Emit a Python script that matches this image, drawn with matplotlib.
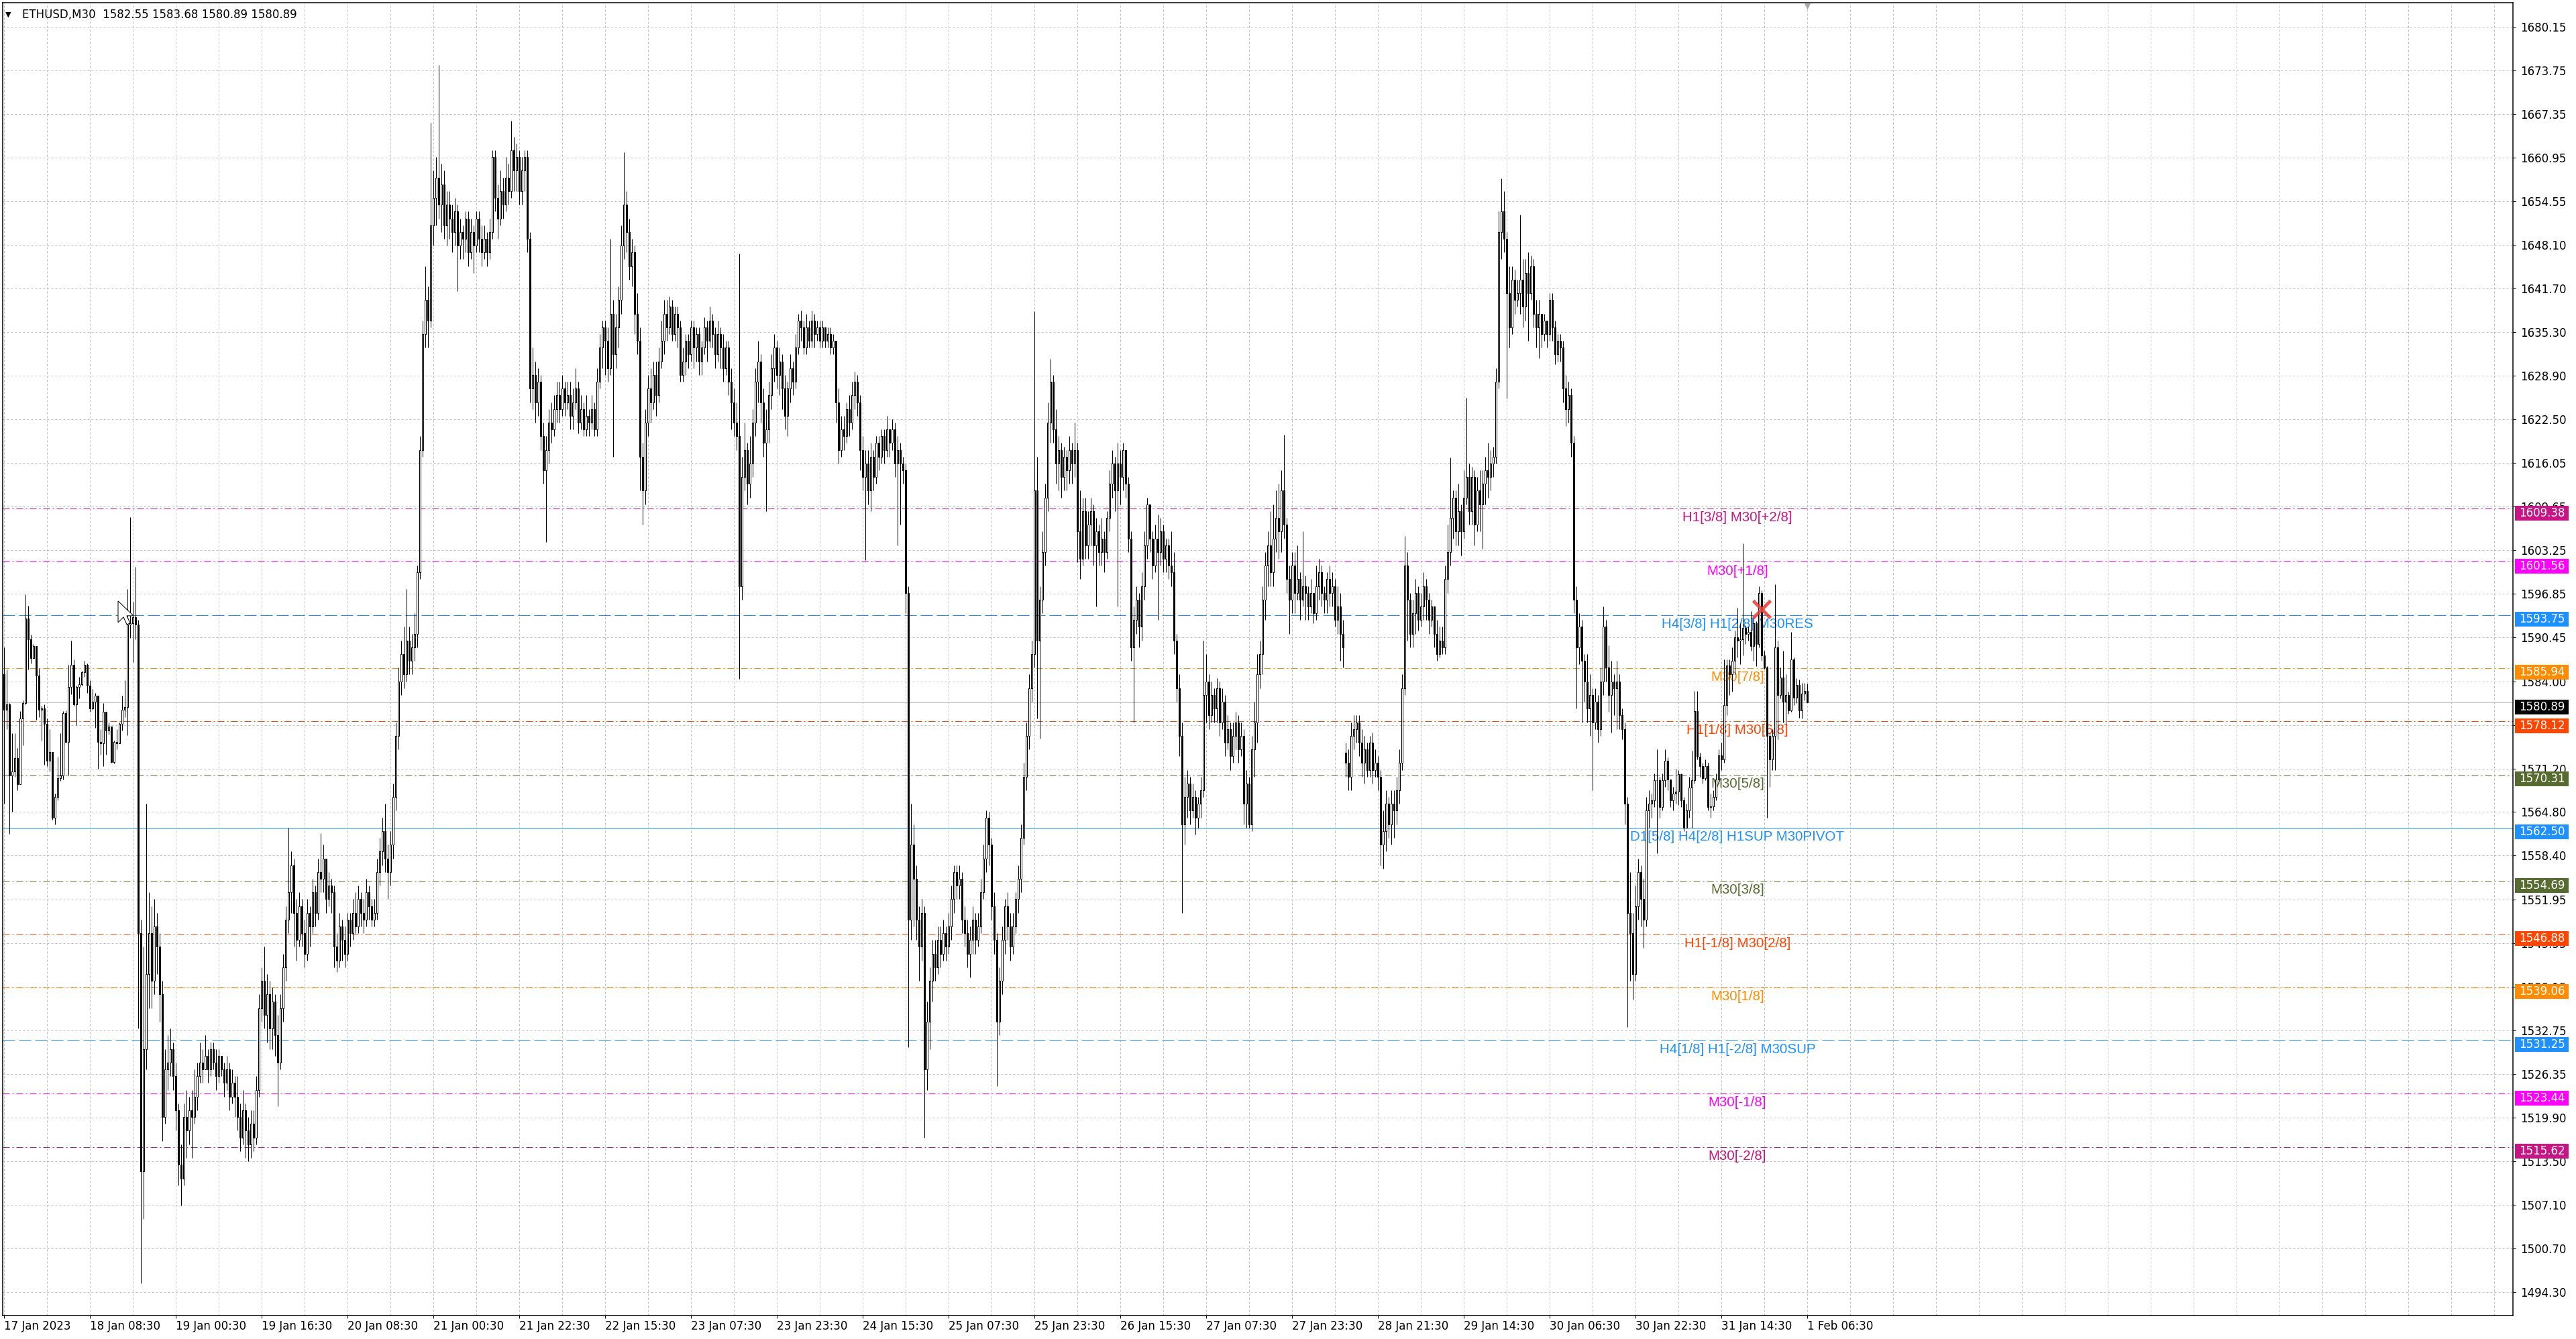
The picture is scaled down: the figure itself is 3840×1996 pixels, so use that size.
import matplotlib
matplotlib.use("Agg")
import matplotlib.pyplot as plt
import matplotlib.transforms as mtransforms
from matplotlib.patches import Polygon, Rectangle

WIDTH_PX, HEIGHT_PX, DPI = 3840, 1996, 100
PX = 72.0 / DPI  # one screen pixel in points

# ETHUSD M30 candles (open = previous close)
first_open = 1585.0
gap_opens = {500: 1573.5}

closes = [
    1579.8, 1580.6, 1570.2, 1570.8, 1572.7, 1568.9, 1578.5, 1580.8, 1593.2, 1590.2,  # 0
    1587.4, 1589.2, 1584.9, 1579.8, 1580.0, 1577.8, 1572.3, 1573.6, 1564.0, 1567.0,  # 10
    1569.8, 1570.2, 1579.3, 1575.1, 1583.2, 1586.4, 1580.6, 1583.2, 1583.6, 1585.3,  # 20
    1586.4, 1583.4, 1580.0, 1581.0, 1581.9, 1575.1, 1574.9, 1579.5, 1576.8, 1577.4,  # 30
    1572.1, 1575.1, 1574.9, 1577.8, 1579.8, 1580.2, 1592.3, 1592.5, 1593.4, 1592.3,  # 40
    1547.0, 1512.0, 1530.0, 1541.0, 1547.0, 1540.0, 1548.0, 1545.0, 1538.0, 1520.0,  # 50
    1527.0, 1528.0, 1530.0, 1526.0, 1521.0, 1513.0, 1511.0, 1520.0, 1518.0, 1521.0,  # 60
    1520.0, 1523.0, 1526.0, 1528.0, 1527.0, 1529.0, 1527.0, 1530.0, 1528.0, 1526.0,  # 70
    1529.0, 1527.0, 1525.0, 1527.0, 1523.0, 1525.0, 1523.0, 1520.0, 1517.0, 1521.0,  # 80
    1518.0, 1516.0, 1519.0, 1517.0, 1524.0, 1536.0, 1540.0, 1535.0, 1538.0, 1533.0,  # 90
    1537.0, 1532.0, 1528.0, 1536.0, 1542.0, 1549.0, 1553.0, 1557.0, 1550.0, 1546.0,  # 100
    1551.0, 1547.0, 1544.0, 1550.0, 1548.0, 1553.0, 1550.0, 1556.0, 1555.0, 1558.0,  # 110
    1552.0, 1554.0, 1553.0, 1545.0, 1543.0, 1548.0, 1546.0, 1544.0, 1549.0, 1547.0,  # 120
    1550.0, 1548.0, 1552.0, 1550.0, 1549.0, 1553.0, 1551.0, 1549.0, 1550.0, 1556.0,  # 130
    1559.0, 1562.0, 1558.0, 1556.0, 1560.0, 1567.0, 1576.0, 1584.0, 1588.0, 1585.0,  # 140
    1590.0, 1587.0, 1589.0, 1591.0, 1600.0, 1618.0, 1635.0, 1640.0, 1637.0, 1651.0,  # 150
    1655.0, 1658.0, 1654.0, 1657.0, 1651.0, 1654.0, 1652.0, 1650.0, 1653.0, 1648.0,  # 160
    1650.0, 1649.0, 1652.0, 1647.0, 1650.0, 1648.0, 1652.0, 1649.0, 1647.0, 1649.0,  # 170
    1647.0, 1650.0, 1661.0, 1655.0, 1652.0, 1656.0, 1654.0, 1658.0, 1656.0, 1662.0,  # 180
    1659.0, 1661.0, 1656.0, 1659.0, 1661.0, 1649.0, 1627.0, 1629.0, 1625.0, 1628.0,  # 190
    1620.0, 1615.0, 1618.0, 1622.0, 1621.0, 1624.0, 1626.0, 1624.0, 1627.0, 1625.0,  # 200
    1626.0, 1623.0, 1625.0, 1627.0, 1622.0, 1624.0, 1621.0, 1623.0, 1622.0, 1624.0,  # 210
    1621.0, 1628.0, 1633.0, 1636.0, 1634.0, 1630.0, 1638.0, 1632.0, 1636.0, 1640.0,  # 220
    1648.0, 1654.0, 1650.0, 1645.0, 1647.0, 1638.0, 1634.0, 1617.0, 1612.0, 1622.0,  # 230
    1627.0, 1625.0, 1629.0, 1626.0, 1631.0, 1634.0, 1638.0, 1636.0, 1639.0, 1635.0,  # 240
    1638.0, 1636.0, 1629.0, 1631.0, 1634.0, 1632.0, 1636.0, 1633.0, 1635.0, 1631.0,  # 250
    1633.0, 1636.0, 1634.0, 1637.0, 1635.0, 1632.0, 1635.0, 1633.0, 1630.0, 1633.0,  # 260
    1628.0, 1625.0, 1622.0, 1620.0, 1598.0, 1614.0, 1618.0, 1613.0, 1616.0, 1622.0,  # 270
    1628.0, 1631.0, 1625.0, 1619.0, 1621.0, 1626.0, 1630.0, 1633.0, 1629.0, 1631.0,  # 280
    1627.0, 1623.0, 1627.0, 1630.0, 1628.0, 1633.0, 1637.0, 1636.0, 1633.0, 1636.0,  # 290
    1634.0, 1637.0, 1635.0, 1636.0, 1634.0, 1636.0, 1634.0, 1635.0, 1633.0, 1634.0,  # 300
    1625.0, 1618.0, 1621.0, 1620.0, 1624.0, 1622.0, 1626.0, 1628.0, 1625.0, 1618.0,  # 310
    1614.0, 1616.0, 1612.0, 1617.0, 1614.0, 1619.0, 1617.0, 1620.0, 1618.0, 1621.0,  # 320
    1619.0, 1621.0, 1616.0, 1618.0, 1616.0, 1615.0, 1597.0, 1549.0, 1560.0, 1555.0,  # 330
    1549.0, 1545.0, 1550.0, 1527.0, 1534.0, 1540.0, 1544.0, 1542.0, 1546.0, 1544.0,  # 340
    1547.0, 1545.0, 1548.0, 1552.0, 1556.0, 1554.0, 1555.0, 1549.0, 1547.0, 1544.0,  # 350
    1546.0, 1549.0, 1546.0, 1548.0, 1553.0, 1558.0, 1564.0, 1560.0, 1551.0, 1546.0,  # 360
    1534.0, 1540.0, 1546.0, 1551.0, 1548.0, 1545.0, 1548.0, 1552.0, 1555.0, 1561.0,  # 370
    1570.0, 1576.0, 1583.0, 1588.0, 1612.0, 1590.0, 1596.0, 1603.0, 1611.0, 1622.0,  # 380
    1628.0, 1621.0, 1616.0, 1618.0, 1614.0, 1617.0, 1615.0, 1618.0, 1616.0, 1618.0,  # 390
    1606.0, 1602.0, 1609.0, 1604.0, 1607.0, 1609.0, 1604.0, 1606.0, 1603.0, 1605.0,  # 400
    1603.0, 1608.0, 1613.0, 1616.0, 1612.0, 1616.0, 1614.0, 1618.0, 1613.0, 1605.0,  # 410
    1589.0, 1593.0, 1596.0, 1592.0, 1598.0, 1604.0, 1610.0, 1605.0, 1601.0, 1605.0,  # 420
    1603.0, 1606.0, 1602.0, 1604.0, 1601.0, 1600.0, 1590.0, 1583.0, 1576.0, 1563.0,  # 430
    1567.0, 1569.0, 1565.0, 1567.0, 1564.0, 1566.0, 1568.0, 1582.0, 1584.0, 1579.0,  # 440
    1582.0, 1580.0, 1583.0, 1578.0, 1581.0, 1575.0, 1577.0, 1573.0, 1576.0, 1578.0,  # 450
    1574.0, 1576.0, 1566.0, 1569.0, 1563.0, 1574.0, 1578.0, 1585.0, 1588.0, 1596.0,  # 460
    1601.0, 1604.0, 1600.0, 1605.0, 1608.0, 1606.0, 1612.0, 1607.0, 1599.0, 1596.0,  # 470
    1601.0, 1597.0, 1599.0, 1596.0, 1598.0, 1597.0, 1595.0, 1597.0, 1594.0, 1598.0,  # 480
    1600.0, 1597.0, 1596.0, 1599.0, 1597.0, 1598.0, 1593.0, 1595.0, 1591.0, 1589.0,  # 490
    1572.0, 1570.0, 1576.0, 1577.0, 1578.0, 1575.0, 1572.0, 1574.0, 1571.0, 1575.0,  # 500
    1571.0, 1572.0, 1570.0, 1560.0, 1562.0, 1566.0, 1563.0, 1566.0, 1565.0, 1568.0,  # 510
    1572.0, 1583.0, 1601.0, 1596.0, 1591.0, 1594.0, 1597.0, 1593.0, 1595.0, 1598.0,  # 520
    1596.0, 1593.0, 1595.0, 1591.0, 1588.0, 1590.0, 1589.0, 1599.0, 1603.0, 1608.0,  # 530
    1611.0, 1606.0, 1609.0, 1606.0, 1611.0, 1614.0, 1609.0, 1614.0, 1607.0, 1612.0,  # 540
    1610.0, 1613.0, 1615.0, 1614.0, 1616.0, 1617.0, 1628.0, 1650.0, 1653.0, 1649.0,  # 550
    1641.0, 1636.0, 1643.0, 1640.0, 1641.0, 1643.0, 1639.0, 1644.0, 1641.0, 1645.0,  # 560
    1638.0, 1636.0, 1638.0, 1635.0, 1637.0, 1635.0, 1640.0, 1636.0, 1632.0, 1634.0,  # 570
    1633.0, 1627.0, 1624.0, 1626.0, 1619.0, 1596.0, 1589.0, 1592.0, 1587.0, 1584.0,  # 580
    1580.0, 1582.0, 1578.0, 1581.0, 1577.0, 1584.0, 1592.0, 1586.0, 1582.0, 1584.0,  # 590
    1583.0, 1584.0, 1579.0, 1577.0, 1566.0, 1550.0, 1547.0, 1541.0, 1551.0, 1556.0,  # 600
    1552.0, 1549.0, 1565.0, 1566.0, 1566.5, 1569.5, 1569.5, 1565.5, 1569.5, 1572.3,  # 610
    1569.6, 1566.5, 1567.5, 1567.8, 1570.4, 1566.5, 1562.5, 1565.0, 1568.4, 1569.5,  # 620
    1579.6, 1572.9, 1571.5, 1569.8, 1571.5, 1565.5, 1565.6, 1567.0, 1569.6, 1573.1,  # 630
    1572.5, 1580.5, 1586.3, 1585.0, 1587.0, 1590.5, 1590.0, 1590.2, 1591.8, 1591.0,  # 640
    1591.3, 1589.2, 1592.5, 1589.5, 1597.0, 1587.8, 1586.0, 1576.0, 1572.5, 1576.0,  # 650
    1589.0, 1582.0, 1584.6, 1581.0, 1582.0, 1579.7, 1587.2, 1581.6, 1583.5, 1579.7,  # 660
    1582.2, 1582.55, 1580.89,                                                        # 670
]

highs = [
    1589.0, 1585.7, 1580.8, 1576.4, 1576.4, 1574.2, 1579.6, 1581.2, 1596.8, 1595.1,  # 0
    1590.9, 1589.5, 1589.2, 1585.9, 1580.4, 1580.6, 1578.5, 1577.0, 1573.5, 1567.5,  # 10
    1572.9, 1576.4, 1579.6, 1579.7, 1586.4, 1590.0, 1587.2, 1583.4, 1584.7, 1585.5,  # 20
    1587.0, 1586.6, 1584.2, 1582.9, 1582.3, 1581.9, 1577.0, 1580.8, 1579.5, 1578.0,  # 30
    1577.1, 1575.3, 1577.0, 1578.0, 1581.9, 1584.2, 1597.6, 1608.1, 1595.7, 1600.8,  # 40
    1593.0, 1549.0, 1545.0, 1566.0, 1553.0, 1551.0, 1552.0, 1550.0, 1547.0, 1540.0,  # 50
    1530.0, 1532.0, 1533.0, 1531.0, 1528.0, 1522.0, 1516.0, 1522.0, 1524.0, 1523.0,  # 60
    1524.0, 1527.0, 1528.0, 1531.0, 1530.0, 1532.0, 1530.0, 1531.0, 1531.0, 1530.0,  # 70
    1530.0, 1529.0, 1528.0, 1529.0, 1528.0, 1527.0, 1526.0, 1526.0, 1522.0, 1524.0,  # 80
    1522.0, 1520.0, 1521.0, 1521.0, 1526.0, 1538.0, 1542.0, 1545.0, 1541.0, 1540.0,  # 90
    1539.0, 1538.0, 1535.0, 1538.0, 1544.0, 1551.0, 1562.5, 1559.0, 1558.0, 1552.0,  # 100
    1553.0, 1552.0, 1549.0, 1552.0, 1551.0, 1555.0, 1554.0, 1558.0, 1561.7, 1560.0,  # 110
    1558.0, 1556.0, 1555.0, 1554.0, 1547.0, 1550.0, 1549.0, 1548.0, 1550.0, 1550.0,  # 120
    1552.0, 1553.0, 1554.0, 1553.0, 1552.0, 1555.0, 1554.0, 1552.0, 1552.0, 1558.0,  # 130
    1561.0, 1564.0, 1566.0, 1560.0, 1562.0, 1569.0, 1578.0, 1586.0, 1590.0, 1592.0,  # 140
    1597.6, 1592.0, 1591.0, 1594.0, 1601.0, 1620.0, 1637.0, 1645.0, 1642.0, 1666.0,  # 150
    1659.0, 1661.0, 1674.5, 1660.0, 1659.0, 1656.0, 1656.0, 1654.0, 1655.0, 1654.0,  # 160
    1652.0, 1651.0, 1653.0, 1653.0, 1652.0, 1651.0, 1653.0, 1653.0, 1651.0, 1651.0,  # 170
    1650.0, 1652.0, 1662.0, 1662.0, 1657.0, 1659.0, 1658.0, 1661.0, 1660.0, 1666.3,  # 180
    1664.0, 1663.0, 1662.0, 1661.0, 1662.0, 1662.0, 1650.0, 1633.0, 1631.0, 1630.0,  # 190
    1629.0, 1622.0, 1620.0, 1624.0, 1625.0, 1626.0, 1628.0, 1628.0, 1629.0, 1628.0,  # 200
    1628.0, 1628.0, 1627.0, 1630.0, 1628.0, 1626.0, 1625.0, 1626.0, 1624.0, 1626.0,  # 210
    1625.0, 1630.0, 1635.0, 1637.0, 1637.0, 1636.0, 1649.0, 1640.0, 1638.0, 1642.0,  # 220
    1651.0, 1661.7, 1656.0, 1652.0, 1649.0, 1648.0, 1641.0, 1636.0, 1619.0, 1624.0,  # 230
    1629.0, 1630.0, 1631.0, 1631.0, 1633.0, 1637.0, 1640.0, 1640.0, 1640.5, 1640.0,  # 240
    1639.0, 1639.0, 1637.0, 1633.0, 1635.0, 1635.0, 1637.0, 1637.0, 1636.0, 1636.0,  # 250
    1634.0, 1637.5, 1637.0, 1639.0, 1638.0, 1636.0, 1637.0, 1636.0, 1635.0, 1634.0,  # 260
    1634.0, 1630.0, 1627.0, 1625.0, 1646.8, 1617.0, 1622.0, 1619.0, 1620.0, 1624.0,  # 270
    1630.0, 1634.0, 1632.0, 1627.0, 1624.0, 1628.0, 1632.0, 1635.0, 1634.0, 1633.0,  # 280
    1632.0, 1629.0, 1628.0, 1632.0, 1631.0, 1635.0, 1638.0, 1638.5, 1637.0, 1638.0,  # 290
    1637.0, 1638.5, 1638.0, 1637.0, 1637.0, 1637.0, 1636.0, 1636.0, 1636.0, 1635.0,  # 300
    1634.0, 1627.0, 1623.0, 1623.0, 1625.0, 1626.0, 1628.0, 1629.5, 1629.0, 1626.0,  # 310
    1620.0, 1618.0, 1618.0, 1619.0, 1618.0, 1620.0, 1620.0, 1621.0, 1621.0, 1623.0,  # 320
    1621.0, 1622.5, 1622.0, 1620.0, 1619.0, 1617.0, 1616.0, 1598.0, 1566.0, 1563.0,  # 330
    1557.0, 1551.0, 1552.0, 1551.0, 1537.0, 1542.0, 1546.0, 1546.0, 1548.0, 1548.0,  # 340
    1549.0, 1548.0, 1550.0, 1554.0, 1557.0, 1557.0, 1557.0, 1556.0, 1551.0, 1549.0,  # 350
    1548.0, 1551.0, 1550.0, 1550.0, 1555.0, 1560.0, 1565.0, 1564.8, 1561.0, 1553.0,  # 360
    1547.0, 1542.0, 1548.0, 1552.0, 1553.0, 1550.0, 1550.0, 1553.0, 1557.0, 1563.0,  # 370
    1572.0, 1578.0, 1585.0, 1590.0, 1638.4, 1617.0, 1598.0, 1606.0, 1613.0, 1625.0,  # 380
    1631.4, 1629.0, 1624.0, 1620.0, 1619.0, 1618.5, 1618.0, 1620.0, 1619.0, 1622.0,  # 390
    1619.0, 1612.0, 1611.0, 1611.0, 1609.0, 1611.0, 1610.0, 1608.0, 1607.0, 1608.0,  # 400
    1606.0, 1609.0, 1615.0, 1618.0, 1617.0, 1619.0, 1618.0, 1619.0, 1618.0, 1614.0,  # 410
    1606.0, 1595.0, 1598.0, 1597.0, 1600.0, 1606.0, 1611.0, 1609.5, 1606.0, 1607.0,  # 420
    1608.5, 1608.0, 1607.0, 1605.0, 1605.0, 1606.0, 1603.0, 1591.0, 1585.0, 1578.0,  # 430
    1570.0, 1571.0, 1570.0, 1569.0, 1568.0, 1567.0, 1570.0, 1590.0, 1588.0, 1585.0,  # 440
    1584.0, 1583.0, 1584.5, 1584.0, 1583.0, 1582.0, 1579.0, 1578.0, 1578.0, 1579.5,  # 450
    1579.0, 1578.0, 1577.0, 1571.0, 1570.0, 1576.0, 1581.0, 1588.0, 1590.0, 1598.0,  # 460
    1603.0, 1606.0, 1609.0, 1610.0, 1612.0, 1613.0, 1615.0, 1620.2, 1608.0, 1601.0,  # 470
    1603.0, 1603.0, 1604.0, 1600.0, 1606.0, 1599.5, 1598.0, 1599.0, 1597.0, 1601.0,  # 480
    1602.0, 1601.0, 1598.0, 1600.0, 1601.0, 1600.0, 1599.0, 1598.0, 1597.0, 1593.0,  # 490
    1575.0, 1574.0, 1578.0, 1579.0, 1579.0, 1579.0, 1577.0, 1576.0, 1575.0, 1576.0,  # 500
    1576.5, 1574.0, 1573.0, 1571.0, 1565.0, 1568.0, 1567.0, 1568.0, 1568.0, 1570.0,  # 510
    1574.0, 1585.0, 1605.3, 1603.0, 1597.0, 1596.0, 1599.0, 1598.0, 1597.0, 1600.0,  # 520
    1599.0, 1597.0, 1596.0, 1595.0, 1593.0, 1592.0, 1592.0, 1601.0, 1607.0, 1616.9,  # 530
    1612.0, 1612.0, 1613.0, 1610.0, 1615.0, 1625.6, 1616.0, 1615.5, 1615.0, 1614.0,  # 540
    1615.0, 1615.0, 1617.0, 1619.0, 1618.0, 1618.5, 1630.0, 1653.0, 1657.9, 1656.0,  # 550
    1650.0, 1645.0, 1645.0, 1644.5, 1643.0, 1652.5, 1646.0, 1646.0, 1647.0, 1646.5,  # 560
    1646.0, 1640.0, 1640.0, 1638.0, 1638.0, 1637.0, 1641.0, 1641.0, 1637.0, 1635.0,  # 570
    1635.0, 1634.0, 1629.0, 1628.0, 1627.0, 1620.0, 1598.0, 1594.0, 1593.0, 1588.0,  # 580
    1588.0, 1585.0, 1583.0, 1583.0, 1582.0, 1586.0, 1595.0, 1593.0, 1589.3, 1587.0,  # 590
    1585.0, 1587.0, 1585.0, 1580.0, 1578.0, 1567.0, 1556.0, 1550.0, 1554.0, 1558.0,  # 600
    1557.0, 1555.0, 1567.0, 1568.0, 1567.5, 1570.5, 1574.0, 1570.0, 1570.5, 1574.0,  # 610
    1572.8, 1569.5, 1568.5, 1571.2, 1571.0, 1570.5, 1567.0, 1566.0, 1570.0, 1573.8,  # 620
    1582.6, 1582.6, 1573.5, 1572.0, 1572.5, 1572.0, 1567.5, 1568.0, 1570.5, 1574.0,  # 630
    1575.0, 1587.2, 1587.2, 1587.2, 1589.0, 1591.5, 1594.8, 1592.5, 1604.3, 1592.2,  # 640
    1592.0, 1594.3, 1593.6, 1592.8, 1598.0, 1597.4, 1588.5, 1586.2, 1576.5, 1577.0,  # 650
    1598.3, 1590.0, 1586.0, 1588.5, 1585.0, 1582.5, 1591.3, 1587.5, 1584.5, 1584.3,  # 660
    1583.8, 1583.8, 1583.68,                                                         # 670
]

lows = [
    1566.0, 1577.0, 1561.6, 1564.8, 1570.0, 1568.0, 1568.9, 1574.6, 1580.6, 1585.7,  # 0
    1586.6, 1587.4, 1578.3, 1578.7, 1575.3, 1571.7, 1571.5, 1570.8, 1563.7, 1563.0,  # 10
    1566.5, 1569.4, 1569.6, 1575.0, 1570.2, 1582.1, 1580.4, 1577.6, 1581.5, 1583.4,  # 20
    1584.7, 1582.3, 1579.5, 1579.8, 1577.2, 1571.2, 1573.2, 1571.5, 1573.2, 1576.2,  # 30
    1572.0, 1571.9, 1574.0, 1574.9, 1576.8, 1578.7, 1576.1, 1590.4, 1586.8, 1590.2,  # 40
    1533.0, 1495.6, 1505.0, 1527.0, 1536.0, 1536.0, 1538.0, 1541.0, 1534.0, 1516.5,  # 50
    1519.0, 1524.0, 1526.0, 1524.0, 1518.0, 1510.0, 1507.0, 1510.0, 1514.0, 1516.0,  # 60
    1514.0, 1519.0, 1521.0, 1525.0, 1525.0, 1527.0, 1525.0, 1526.0, 1527.0, 1524.0,  # 70
    1525.0, 1526.0, 1523.0, 1524.0, 1521.0, 1522.0, 1520.0, 1518.0, 1515.0, 1516.0,  # 80
    1514.0, 1513.5, 1514.0, 1515.0, 1516.0, 1523.0, 1534.0, 1533.0, 1531.0, 1530.0,  # 90
    1530.0, 1529.0, 1521.6, 1527.0, 1534.0, 1540.0, 1547.0, 1550.0, 1545.0, 1543.0,  # 100
    1545.0, 1545.0, 1542.0, 1543.0, 1545.0, 1547.0, 1548.0, 1549.0, 1553.0, 1553.0,  # 110
    1550.0, 1551.0, 1550.0, 1542.0, 1541.3, 1542.0, 1543.0, 1542.0, 1543.0, 1545.0,  # 120
    1546.0, 1547.0, 1547.0, 1548.0, 1547.0, 1548.0, 1549.0, 1548.0, 1548.0, 1549.0,  # 130
    1554.0, 1557.0, 1556.0, 1552.0, 1554.0, 1558.0, 1565.0, 1574.0, 1582.0, 1583.0,  # 140
    1584.0, 1585.0, 1585.0, 1587.0, 1589.0, 1599.0, 1617.0, 1633.0, 1633.0, 1636.0,  # 150
    1648.0, 1651.0, 1652.0, 1650.0, 1649.0, 1648.0, 1649.0, 1647.0, 1648.0, 1641.3,  # 160
    1646.0, 1646.0, 1647.0, 1645.0, 1646.0, 1644.0, 1647.0, 1647.0, 1645.0, 1646.0,  # 170
    1645.0, 1646.0, 1649.0, 1653.0, 1649.0, 1651.0, 1652.0, 1653.0, 1654.0, 1655.0,  # 180
    1656.0, 1656.0, 1654.0, 1654.0, 1656.0, 1647.0, 1625.0, 1624.0, 1622.0, 1623.0,  # 190
    1618.0, 1613.0, 1604.5, 1616.0, 1619.0, 1620.0, 1622.0, 1622.0, 1623.0, 1623.0,  # 200
    1624.0, 1621.0, 1621.0, 1624.0, 1620.4, 1621.0, 1620.0, 1620.0, 1620.0, 1621.0,  # 210
    1620.0, 1620.0, 1627.0, 1630.0, 1629.0, 1628.0, 1629.0, 1617.0, 1630.0, 1633.0,  # 220
    1638.0, 1646.0, 1647.0, 1643.0, 1642.0, 1635.0, 1632.0, 1612.0, 1607.0, 1610.0,  # 230
    1620.0, 1622.0, 1624.0, 1623.0, 1625.0, 1630.0, 1632.0, 1634.0, 1635.0, 1634.0,  # 240
    1634.0, 1633.0, 1628.0, 1628.0, 1629.0, 1630.0, 1631.0, 1630.0, 1631.0, 1629.0,  # 250
    1629.0, 1632.0, 1631.0, 1633.0, 1633.0, 1630.0, 1631.0, 1630.0, 1628.0, 1629.0,  # 260
    1626.0, 1621.0, 1620.0, 1618.0, 1584.4, 1596.0, 1612.0, 1610.0, 1611.0, 1614.0,  # 270
    1620.0, 1625.0, 1622.0, 1617.0, 1609.0, 1619.0, 1624.0, 1628.0, 1627.0, 1626.0,  # 280
    1624.0, 1621.0, 1620.0, 1625.0, 1626.0, 1627.0, 1632.0, 1634.0, 1632.0, 1632.0,  # 290
    1633.0, 1633.0, 1633.0, 1634.0, 1633.0, 1633.0, 1633.0, 1633.0, 1632.0, 1632.0,  # 300
    1622.0, 1616.0, 1617.0, 1618.0, 1619.0, 1620.0, 1621.0, 1624.0, 1623.0, 1615.0,  # 310
    1612.0, 1601.8, 1610.0, 1609.0, 1612.0, 1613.0, 1615.0, 1616.0, 1616.0, 1617.0,  # 320
    1617.0, 1618.0, 1614.0, 1604.0, 1607.0, 1613.0, 1594.0, 1530.3, 1546.0, 1548.0,  # 330
    1546.0, 1540.0, 1543.0, 1517.0, 1524.0, 1530.0, 1537.0, 1540.0, 1541.0, 1542.0,  # 340
    1543.0, 1543.0, 1544.0, 1546.0, 1550.0, 1552.0, 1552.0, 1547.0, 1545.0, 1542.0,  # 350
    1540.5, 1544.0, 1544.0, 1545.0, 1547.0, 1552.0, 1556.0, 1557.0, 1549.0, 1544.0,  # 360
    1524.5, 1532.0, 1538.0, 1544.0, 1546.0, 1543.0, 1544.0, 1547.0, 1550.0, 1553.0,  # 370
    1560.0, 1568.0, 1574.0, 1581.0, 1586.0, 1578.5, 1575.6, 1594.0, 1601.0, 1609.0,  # 380
    1619.0, 1619.0, 1613.0, 1612.0, 1611.0, 1612.0, 1612.0, 1613.0, 1613.0, 1614.0,  # 390
    1601.5, 1599.0, 1601.0, 1602.0, 1602.0, 1604.0, 1601.0, 1595.0, 1601.0, 1601.0,  # 400
    1600.0, 1602.0, 1606.0, 1611.0, 1609.0, 1595.0, 1610.0, 1612.0, 1611.0, 1603.0,  # 410
    1587.0, 1578.0, 1591.0, 1589.0, 1590.0, 1596.0, 1602.0, 1603.0, 1599.0, 1600.0,  # 420
    1593.0, 1601.0, 1600.0, 1600.0, 1599.0, 1598.0, 1588.0, 1581.0, 1573.0, 1550.0,  # 430
    1560.0, 1564.0, 1563.0, 1564.0, 1561.5, 1562.5, 1564.0, 1567.0, 1578.0, 1577.0,  # 440
    1578.0, 1578.0, 1578.0, 1576.0, 1577.0, 1573.0, 1574.0, 1571.0, 1572.0, 1574.0,  # 450
    1572.0, 1573.0, 1563.0, 1562.5, 1562.5, 1562.0, 1570.0, 1575.0, 1583.0, 1585.0,  # 460
    1593.0, 1598.0, 1598.0, 1598.0, 1603.0, 1602.0, 1603.0, 1605.0, 1597.0, 1591.0,  # 470
    1594.0, 1594.0, 1596.0, 1593.0, 1595.0, 1593.0, 1593.0, 1594.0, 1592.5, 1593.0,  # 480
    1596.0, 1595.0, 1594.0, 1594.0, 1595.0, 1595.0, 1592.0, 1591.0, 1587.0, 1586.0,  # 490
    1570.0, 1568.0, 1568.0, 1574.0, 1575.0, 1573.0, 1570.0, 1569.0, 1570.0, 1570.0,  # 500
    1569.0, 1570.0, 1568.0, 1557.0, 1556.5, 1559.0, 1561.0, 1560.0, 1561.0, 1563.0,  # 510
    1566.0, 1571.0, 1582.0, 1590.0, 1589.0, 1589.0, 1591.0, 1591.5, 1592.0, 1593.0,  # 520
    1593.0, 1591.0, 1592.0, 1589.0, 1587.0, 1587.5, 1588.0, 1588.0, 1597.0, 1601.0,  # 530
    1605.0, 1604.0, 1604.0, 1602.5, 1605.0, 1610.0, 1607.0, 1607.0, 1604.0, 1606.0,  # 540
    1606.0, 1603.5, 1610.0, 1611.0, 1612.0, 1614.0, 1616.0, 1627.0, 1646.0, 1647.0,  # 550
    1625.5, 1633.0, 1635.0, 1638.0, 1639.0, 1638.0, 1636.0, 1637.0, 1634.0, 1640.0,  # 560
    1636.0, 1633.0, 1631.5, 1633.0, 1634.0, 1633.0, 1634.0, 1634.0, 1630.6, 1631.0,  # 570
    1631.0, 1625.0, 1621.5, 1622.0, 1617.0, 1594.0, 1580.0, 1586.5, 1578.0, 1581.0,  # 580
    1578.0, 1576.0, 1568.0, 1577.0, 1575.0, 1576.0, 1582.0, 1584.0, 1579.5, 1576.5,  # 590
    1579.0, 1577.0, 1577.0, 1575.5, 1563.0, 1533.2, 1540.0, 1537.3, 1540.0, 1549.0,  # 600
    1548.0, 1544.8, 1548.0, 1562.5, 1564.0, 1565.5, 1558.7, 1564.0, 1565.0, 1568.5,  # 610
    1568.0, 1565.5, 1565.0, 1566.0, 1565.8, 1565.5, 1562.0, 1562.5, 1564.0, 1562.5,  # 620
    1569.0, 1572.5, 1570.0, 1569.0, 1569.5, 1565.0, 1564.0, 1565.0, 1566.5, 1569.0,  # 630
    1571.0, 1572.0, 1579.0, 1582.0, 1582.5, 1585.0, 1587.5, 1586.5, 1587.8, 1589.5,  # 640
    1590.0, 1588.5, 1587.0, 1586.2, 1589.0, 1587.0, 1585.8, 1564.0, 1568.5, 1571.0,  # 650
    1571.0, 1575.5, 1581.5, 1578.0, 1577.8, 1579.2, 1579.5, 1580.5, 1580.8, 1578.6,  # 660
    1578.5, 1581.2, 1580.89,                                                         # 670
]

# time labels every 32 bars
x_labels = ["17 Jan 2023", "18 Jan 08:30", "19 Jan 00:30", "19 Jan 16:30", "20 Jan 08:30",
            "21 Jan 00:30", "21 Jan 22:30", "22 Jan 15:30", "23 Jan 07:30", "23 Jan 23:30",
            "24 Jan 15:30", "25 Jan 07:30", "25 Jan 23:30", "26 Jan 15:30", "27 Jan 07:30",
            "27 Jan 23:30", "28 Jan 21:30", "29 Jan 14:30", "30 Jan 06:30", "30 Jan 22:30",
            "31 Jan 14:30", "1 Feb 06:30"]

price_ticks = [1680.15, 1673.75, 1667.35, 1660.95, 1654.55, 1648.10, 1641.70, 1635.30,
               1628.90, 1622.50, 1616.05, 1609.65, 1603.25, 1596.85, 1590.45, 1584.00,
               1577.60, 1571.20, 1564.80, 1558.40, 1551.95, 1545.55, 1539.15, 1532.75,
               1526.35, 1519.90, 1513.50, 1507.10, 1500.70, 1494.30]

# Murrey math levels
level_prices = [1609.38, 1601.56, 1593.75, 1585.94, 1578.12, 1570.31, 1562.50,
                1554.69, 1546.88, 1539.06, 1531.25, 1523.44, 1515.62]
level_names = ["H1[3/8] M30[+2/8]", "M30[+1/8]", "H4[3/8] H1[2/8] M30RES", "M30[7/8]",
               "H1[1/8] M30[6/8]", "M30[5/8]", "D1[5/8] H4[2/8] H1SUP M30PIVOT", "M30[3/8]",
               "H1[-1/8] M30[2/8]", "M30[1/8]", "H4[1/8] H1[-2/8] M30SUP", "M30[-1/8]",
               "M30[-2/8]"]
level_colors = ["#C71585", "#FF00FF", "#1E90FF", "#FF8C00", "#FF4500", "#556B2F", "#1E90FF",
                "#556B2F", "#FF4500", "#FF8C00", "#1E90FF", "#FF00FF", "#C71585"]
level_kinds = ["dashdot", "dashdot", "dash", "dashdot", "dashdot", "dashdot", "solid",
               "dashdot", "dashdot", "dashdot", "dash", "dashdot", "dashdot"]

symbol = "ETHUSD,M30"
last_ohlc = [1582.55, 1583.68, 1580.89, 1580.89]
last_price = 1580.89
marker_bar, marker_price = 655, 1594.6
cursor_bar, cursor_price = 42.5, 1595.8

LABEL_BAR = 646
Y_MIN, Y_MAX = 1490.85, 1683.68
X_MIN, X_MAX = -0.5, 935.0
AXES_H_PX = 1957.0

LINE_STYLES = {
    "dashdot": (0, (10 * PX, 4 * PX, 2 * PX, 4 * PX)),
    "dash": (0, (18 * PX, 6 * PX)),
    "solid": "-",
}


def build_ohlc():
    """
    Opens follow the previous close; highs/lows are widened to cover the body.
    """
    opens = [first_open] + closes[:-1]
    for i, o in gap_opens.items():
        opens[i] = o
    hi = [max(h, o, c) for h, o, c in zip(highs, opens, closes)]
    lo = [min(l, o, c) for l, o, c in zip(lows, opens, closes)]
    return opens, hi, lo


def draw_candles(ax):
    opens, hi, lo = build_ohlc()
    n = len(closes)
    xs = list(range(n))
    ax.vlines(xs, lo, hi, colors="black", linewidth=PX, zorder=3)
    bottoms = [min(o, c) for o, c in zip(opens, closes)]
    heights = [abs(c - o) for o, c in zip(opens, closes)]
    faces = ["white" if c >= o else "black" for o, c in zip(opens, closes)]
    ax.bar(xs, heights, bottom=bottoms, width=0.5, color=faces,
           edgecolor="black", linewidth=PX, zorder=4)


def draw_levels(ax):
    for price, name, color, kind in zip(level_prices, level_names, level_colors, level_kinds):
        ax.axhline(price, color=color, linewidth=PX, linestyle=LINE_STYLES[kind], zorder=1)
        ax.annotate(name, xy=(LABEL_BAR, price), xytext=(0, -3), textcoords="offset points",
                    ha="center", va="top", color=color, fontsize=14.8,
                    family="Liberation Sans", zorder=2)
    ax.axhline(last_price, color="#C0C0C0", linewidth=PX, zorder=1)


def draw_price_boxes(ax):
    """
    Coloured price tags on the right scale, on top of the tick labels.
    The tags hang a few pixels below their line, as in the terminal.
    """
    trans = mtransforms.blended_transform_factory(ax.transAxes, ax.transData)
    per_px = (Y_MAX - Y_MIN) / AXES_H_PX
    box_h = 22.0 * per_px
    drop = 6.5 * per_px
    tags = list(zip(level_prices, level_colors)) + [(last_price, "black")]
    for price, color in tags:
        mid = price - drop
        ax.add_patch(Rectangle((1.0009, mid - box_h / 2), 0.0214, box_h, transform=trans,
                               facecolor=color, edgecolor="none", clip_on=False, zorder=6))
        ax.text(1.0116, mid, f"{price:.2f}", transform=trans, ha="center", va="center",
                color="white", fontsize=12, clip_on=False, zorder=7)


def draw_extras(ax, fig):
    # red cross on the chart
    ax.plot([marker_bar], [marker_price], marker="x", markersize=19, markeredgewidth=3.6,
            color="#E8453C", alpha=0.9, zorder=8)
    # mouse pointer left on the screenshot
    shape = [(0, 0), (0, 32), (8, 24), (13, 35), (18, 33), (13, 22), (23, 22)]
    trans = mtransforms.Affine2D().scale(1.0, -1.0) + \
        mtransforms.ScaledTranslation(cursor_bar, cursor_price, ax.transData)
    ax.add_patch(Polygon(shape, closed=True, facecolor="white", edgecolor="black",
                         linewidth=PX, transform=trans, zorder=9, clip_on=False))
    # chart shift marker on the top edge
    top = mtransforms.blended_transform_factory(ax.transData, ax.transAxes)
    ax.plot([len(closes) - 1], [1 - 5.0 / AXES_H_PX], marker="v", markersize=7,
            color="#A8A8A8", markeredgecolor="none", transform=top, clip_on=False, zorder=9)
    # header
    y = 1 - 22.0 / HEIGHT_PX
    fig.text(8.0 / WIDTH_PX, y, "\u25bc", fontsize=8, va="center", ha="left")
    head = f"{symbol}  " + " ".join(f"{v:.2f}" for v in last_ohlc)
    fig.text(33.0 / WIDTH_PX, y, head, fontsize=12, va="center", ha="left")


def plot_chart():
    plt.rcParams["font.family"] = ["DejaVu Sans"]
    plt.rcParams["font.size"] = 12
    plt.rcParams["lines.scale_dashes"] = False

    fig = plt.figure(figsize=(WIDTH_PX / DPI, HEIGHT_PX / DPI), dpi=DPI, facecolor="white")
    ax = fig.add_axes([4.0 / WIDTH_PX, 35.0 / HEIGHT_PX,
                       3742.0 / WIDTH_PX, AXES_H_PX / HEIGHT_PX])
    ax.set_xlim(X_MIN, X_MAX)
    ax.set_ylim(Y_MIN, Y_MAX)

    # dotted grid: every price tick and every 16 bars
    grid_style = (0, (3 * PX, 3 * PX))
    for p in price_ticks:
        ax.axhline(p, color="#C0C0C0", linewidth=PX, linestyle=grid_style, zorder=0)
    for b in range(0, int(X_MAX), 16):
        ax.axvline(b, color="#C0C0C0", linewidth=PX, linestyle=grid_style, zorder=0)

    draw_levels(ax)
    draw_candles(ax)

    ax.yaxis.tick_right()
    ax.set_yticks(price_ticks)
    ax.set_yticklabels([f"{p:.2f}" for p in price_ticks])
    ax.tick_params(axis="y", length=4 * PX, width=PX, pad=5, labelsize=12, colors="black")

    ax.set_xticks(list(range(0, 32 * len(x_labels), 32)))
    ax.set_xticklabels(x_labels, ha="left")
    ax.tick_params(axis="x", length=4 * PX, width=PX, pad=2, labelsize=12, colors="black")

    for side in ax.spines.values():
        side.set_linewidth(1.5 * PX)
        side.set_color("black")

    draw_price_boxes(ax)
    draw_extras(ax, fig)

    fig.savefig("out.png", dpi=DPI, facecolor="white")
    plt.close(fig)


if __name__ == "__main__":
    plot_chart()
